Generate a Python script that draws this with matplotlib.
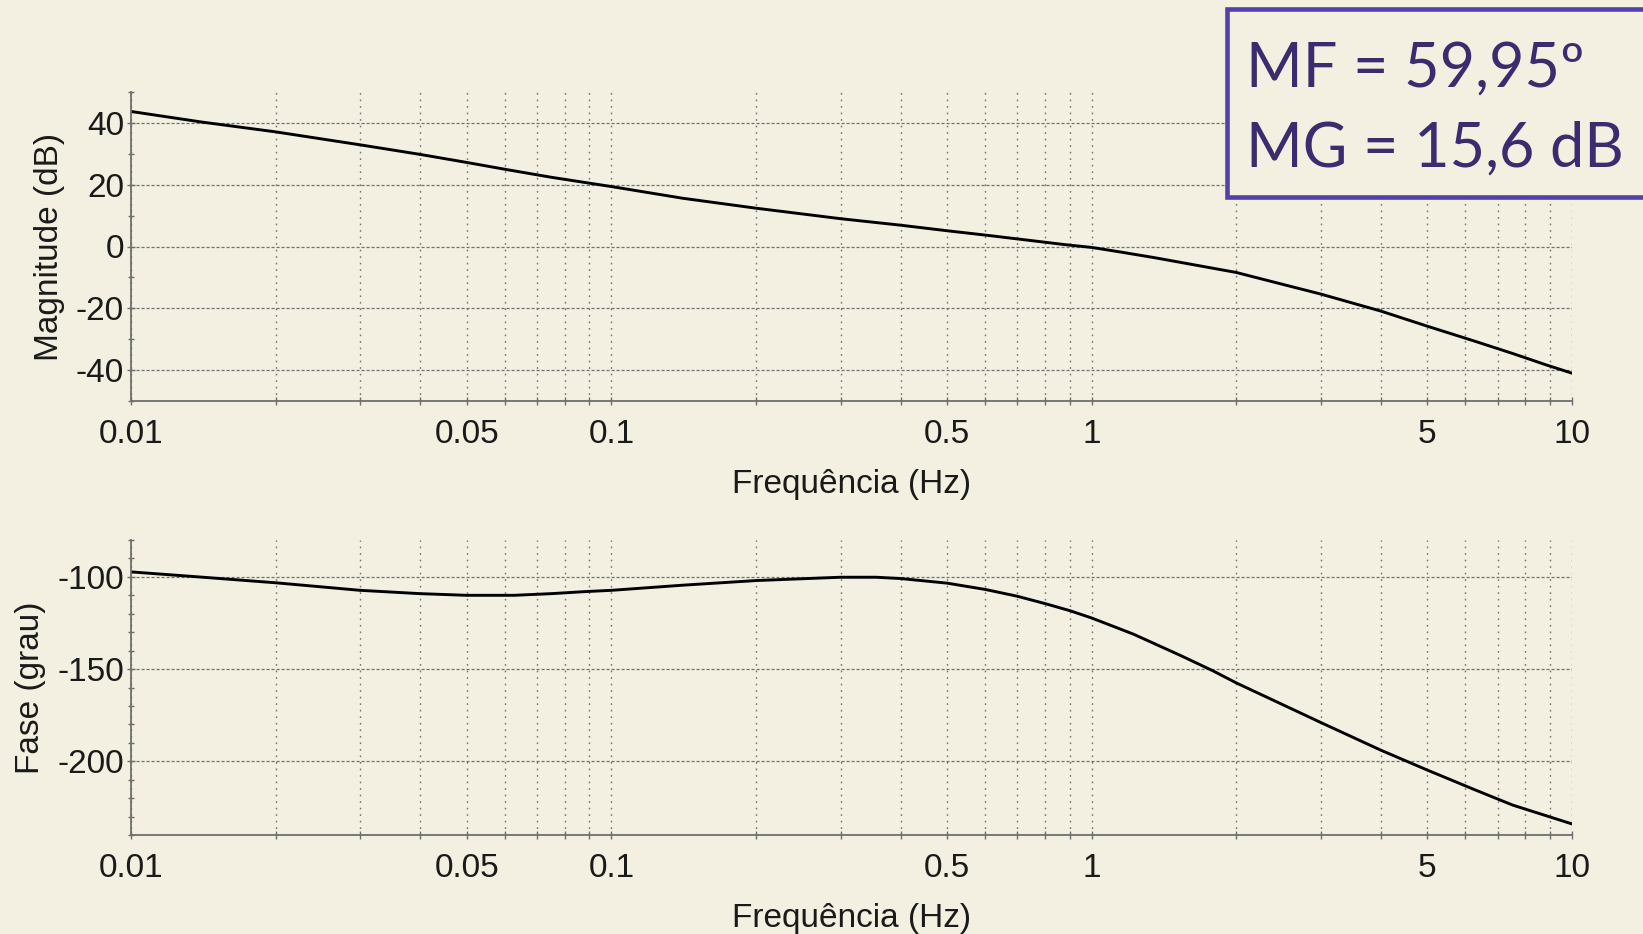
import numpy as np
import matplotlib
matplotlib.use("Agg")
import matplotlib.pyplot as plt
from matplotlib.ticker import LogLocator, FixedLocator, MultipleLocator, NullFormatter
from matplotlib.patches import Rectangle

# ---- data ----
freq_mag = [0.01, 0.014, 0.02, 0.03, 0.04, 0.05, 0.06, 0.075, 0.1, 0.141, 0.2, 0.3,
            0.4, 0.5, 0.6, 0.75, 0.88, 1.0, 1.15, 1.35, 2.0, 2.42, 3.0, 4.0, 5.0,
            6.29, 7.55, 8.83, 10.0]
mag_db = [43.7, 40.3, 37.1, 32.9, 29.8, 27.2, 25.0, 22.4, 19.4, 15.6, 12.4, 9.0,
          6.9, 5.1, 3.7, 1.9, 0.6, -0.3, -1.8, -3.6, -8.4, -11.7, -15.4, -20.9, -25.8,
          -30.7, -34.7, -38.3, -41.0]

freq_ph = [0.01, 0.0138, 0.02, 0.03, 0.04, 0.05, 0.0627, 0.075, 0.088, 0.1, 0.141,
           0.2, 0.3, 0.356, 0.4, 0.5, 0.6, 0.7, 0.8, 0.9, 1.0, 1.22, 1.53, 1.79, 2.0,
           3.0, 4.0, 5.0, 6.28, 7.53, 10.0]
phase_deg = [-97.3, -100.0, -103.2, -107.3, -109.1, -110.0, -110.0, -109.1, -108.0,
             -107.3, -104.5, -102.0, -100.2, -100.2, -100.9, -103.4, -106.8, -110.5,
             -114.5, -118.3, -122.3, -131.0, -142.6, -151.0, -157.5, -179.0, -194.0,
             -204.8, -215.5, -223.8, -234.0]

xticks = [0.01, 0.05, 0.1, 0.5, 1, 5, 10]
xticklabels = ["0.01", "0.05", "0.1", "0.5", "1", "5", "10"]
mag_ticks = [-40, -20, 0, 20, 40]
ph_ticks = [-200, -150, -100]
margin_text = "MF = 59,95º\nMG = 15,6 dB"

BG = "#F3F0E1"
W, H = 1643, 934
fig = plt.figure(figsize=(W / 100, H / 100), dpi=100, facecolor=BG)

def fx(px):
    return px / W

def fy(py):
    return 1 - py / H

left, right = 131, 1572
ax1 = fig.add_axes([fx(left), fy(401), fx(right - left), (401 - 92) / H])
ax2 = fig.add_axes([fx(left), fy(835), fx(right - left), (835 - 540) / H])

FONT = "Liberation Sans"
FS = 24

def style(ax, yticks, ylim, minor_step, ylabel):
    ax.set_facecolor(BG)
    ax.set_xscale("log")
    ax.set_xlim(0.01, 10)
    ax.set_ylim(*ylim)
    for s in ["top", "right"]:
        ax.spines[s].set_visible(False)
    for s in ["left", "bottom"]:
        ax.spines[s].set_color("#6e6e6e")
        ax.spines[s].set_linewidth(1.3)
    ax.xaxis.set_major_locator(FixedLocator(xticks))
    ax.set_xticklabels(xticklabels, fontfamily=FONT, fontsize=FS, color="#1a1a1a")
    ax.xaxis.set_minor_locator(LogLocator(base=10, subs=np.arange(1, 10)))
    ax.xaxis.set_minor_formatter(NullFormatter())
    ax.set_yticks(yticks)
    ax.set_yticklabels([str(t) for t in yticks], fontfamily=FONT, fontsize=FS, color="#1a1a1a")
    ax.yaxis.set_minor_locator(MultipleLocator(minor_step))
    ax.tick_params(axis="both", which="both", direction="inout", color="#6e6e6e",
                   length=6, width=1.0)
    ax.tick_params(axis="y", which="minor", length=4)
    ax.tick_params(axis="x", pad=10)
    ax.tick_params(axis="y", pad=2)
    ax.grid(True, axis="x", which="both", linestyle=(0, (1.2, 3.5)), color="#727272", linewidth=1.0)
    ax.grid(True, axis="y", which="major", linestyle=(0, (2.5, 1.5)), color="#727272", linewidth=0.9)
    ax.set_xlabel("Frequência (Hz)", fontfamily=FONT, fontsize=FS, color="#1a1a1a", labelpad=14)
    ax.set_ylabel(ylabel, fontfamily=FONT, fontsize=FS, color="#1a1a1a", labelpad=8)
    ax.set_axisbelow(True)

style(ax1, mag_ticks, (-50, 50), 10, "Magnitude (dB)")
style(ax2, ph_ticks, (-240, -80), 10, "Fase (grau)")

ax1.plot(freq_mag, mag_db, color="black", linewidth=2.1, solid_capstyle="round",
         solid_joinstyle="round")
ax2.plot(freq_ph, phase_deg, color="black", linewidth=2.1, solid_capstyle="round",
         solid_joinstyle="round")

# annotation box (clipped at right edge)
box = Rectangle((fx(1227), fy(197)), fx(1700 - 1227), (197 - 9) / H,
                transform=fig.transFigure, facecolor=BG, edgecolor="#5141A8",
                linewidth=3.3, zorder=5, clip_on=False)
fig.patches.append(box)
fig.text(fx(1246), fy(109), margin_text, fontfamily="Lato", fontsize=44,
         color="#3B2B6F", ha="left", va="center", linespacing=1.5, zorder=6)

fig.savefig("out.png", dpi=100, facecolor=BG)
